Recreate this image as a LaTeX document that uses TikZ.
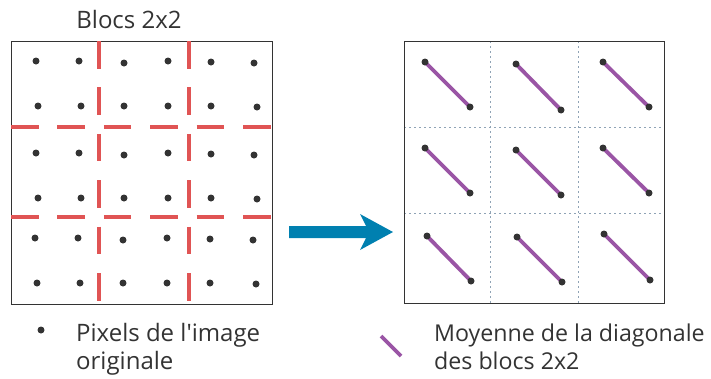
\documentclass[tikz,border=0pt]{standalone}
\usepackage{fontspec}
\setmainfont{Open Sans}
\begin{document}
\begin{tikzpicture}[x=1pt,y=-1pt,
  frame/.style={draw=black!80, line width=1.2pt},
  reddash/.style={draw=redc, line width=3.6pt, dash pattern=on 27.5pt off 18.9pt},
  gridline/.style={draw=gridc, line width=0.8pt, dash pattern=on 2pt off 3pt},
  diag/.style={draw=purplec, line width=3.8pt},
  dot/.style={circle, fill=dotc, inner sep=0pt, minimum size=7pt},
  lbl/.style={text=dotc, inner sep=0pt, font=\fontsize{24}{28}\selectfont},
  lblr/.style={text=dotc, inner sep=0pt, font=\fontsize{23.2}{28}\selectfont},
]
\definecolor{redc}{HTML}{E05454}
\definecolor{purplec}{HTML}{9A55A5}
\definecolor{dotc}{HTML}{333333}
\definecolor{gridc}{HTML}{8FA3B5}
\definecolor{bluec}{HTML}{0080B0}
\useasboundingbox (0,0) rectangle (711,378);

% title
\node[lbl, anchor=base] (title) at (129,28) {Blocs 2x2};

% left box
\node[frame, inner sep=0pt, minimum width=261pt, minimum height=263pt, anchor=north west] (left) at (11,41) {};
\foreach \x/\y [count=\i] in {36/61,79/61,124/63,168/61,211/62,254/63,
  38/106,81/106,124/106,168/106,211/106,257/107,
  36/153,79/153,124/155,168/153,211/154,254/155,
  38/198,81/198,124/198,168/198,211/198,257/199,
  35/238,78/238,123/240,167/238,210/239,253/240,
  37/283,80/283,123/283,167/283,210/283,256/284}
  \node[dot] (p\i) at (\x,\y) {};
\coordinate (h1a) at (11,127); \coordinate (h1b) at (272,127);
\coordinate (h2a) at (11,217); \coordinate (h2b) at (272,217);
\coordinate (v1a) at (99,41); \coordinate (v1b) at (99,304);
\coordinate (v2a) at (189,41); \coordinate (v2b) at (189,304);
\draw[reddash] (h1a) -- (h1b);
\draw[reddash] (h2a) -- (h2b);
\draw[reddash] (v1a) -- (v1b);
\draw[reddash] (v2a) -- (v2b);

% arrow
\fill[bluec] (289,226) -- (366,226) -- (360,214) -- (393,232) -- (360,250) -- (366,238) -- (289,238) -- cycle;

% right box
\coordinate (g1a) at (490,41); \coordinate (g1b) at (490,303);
\coordinate (g2a) at (578,41); \coordinate (g2b) at (578,303);
\coordinate (g3a) at (404,127); \coordinate (g3b) at (664,127);
\coordinate (g4a) at (404,213); \coordinate (g4b) at (664,213);
\draw[gridline] (g1a) -- (g1b);
\draw[gridline] (g2a) -- (g2b);
\draw[gridline] (g3a) -- (g3b);
\draw[gridline] (g4a) -- (g4b);
\node[frame, inner sep=0pt, minimum width=260pt, minimum height=262pt, anchor=north west] (right) at (404,41) {};
\foreach \ax/\ay/\bx/\by [count=\i] in {425/62/470/107, 516/64/561/110, 603/62/649/107,
  425/148/470/193, 516/150/561/195, 603/148/649/193,
  427/236/471/281, 517/237/562/282, 604/234/650/280}
{
  \coordinate (a\i) at (\ax,\ay);
  \coordinate (b\i) at (\bx,\by);
  \draw[diag] (a\i) -- (b\i);
  \node[dot] (da\i) at (a\i) {};
  \node[dot] (db\i) at (b\i) {};
}

% legend
\node[dot, minimum size=7pt] (ldot) at (41,330) {};
\node[lbl, anchor=base west] (l1) at (76,341) {Pixels de l\textquotesingle image};
\node[lbl, anchor=base west] (l2) at (76,369) {originale};
\coordinate (lla) at (381,336); \coordinate (llb) at (401,356);
\draw[diag] (lla) -- (llb);
\node[lblr, anchor=base west] (r1) at (434,341) {Moyenne de la diagonale};
\node[lblr, anchor=base west] (r2) at (434,369) {des blocs 2x2};
\end{tikzpicture}
\end{document}
